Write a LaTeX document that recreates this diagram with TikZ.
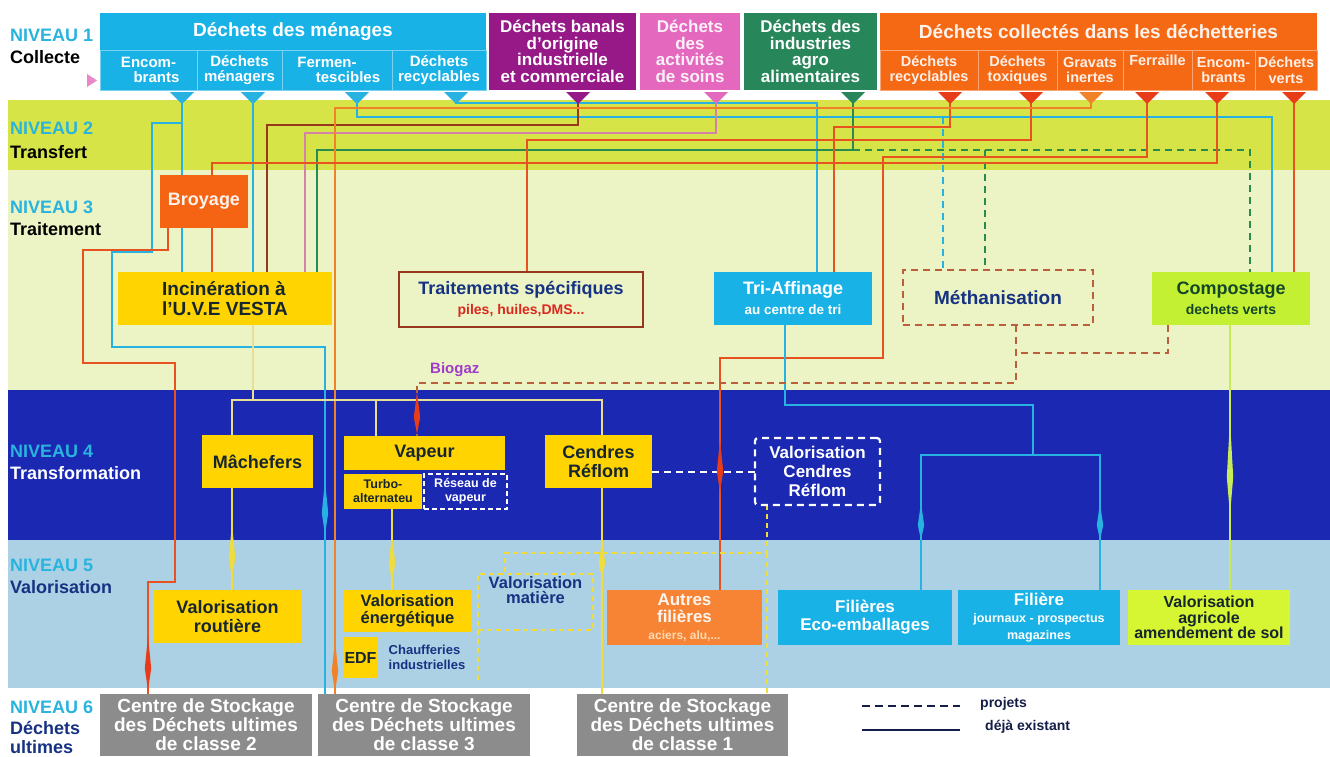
\documentclass[tikz,border=0pt]{standalone}
\usepackage{fontspec}
\setmainfont{Liberation Sans}
\usetikzlibrary{calc}
\pgfdeclarelayer{bg}\pgfdeclarelayer{ln}
\pgfsetlayers{bg,ln,main}
\definecolor{cyB}{RGB}{25,178,230}
\definecolor{cyD}{RGB}{120,210,240}
\definecolor{purB}{RGB}{150,25,135}
\definecolor{pinkB}{RGB}{228,105,190}
\definecolor{grB}{RGB}{40,135,90}
\definecolor{orB}{RGB}{245,105,20}
\definecolor{orD}{RGB}{250,165,115}
\definecolor{bandA}{RGB}{214,228,72}
\definecolor{bandB}{RGB}{236,244,198}
\definecolor{bandC}{RGB}{26,40,178}
\definecolor{bandD}{RGB}{172,208,228}
\definecolor{yelB}{RGB}{255,212,0}
\definecolor{limeB}{RGB}{196,240,52}
\definecolor{limeC}{RGB}{214,245,50}
\definecolor{grayB}{RGB}{140,140,140}
\definecolor{orC}{RGB}{246,132,52}
\definecolor{nivC}{RGB}{40,180,222}
\definecolor{txD}{RGB}{22,38,48}
\definecolor{txB}{RGB}{22,50,130}
\definecolor{txG}{RGB}{20,70,40}
\definecolor{lOr}{RGB}{232,82,32}
\definecolor{lOr2}{RGB}{240,130,40}
\definecolor{lBr}{RGB}{150,55,30}
\definecolor{lPk}{RGB}{212,130,170}
\definecolor{lGr}{RGB}{40,140,80}
\definecolor{lCy}{RGB}{40,178,225}
\definecolor{lDb}{RGB}{185,95,60}
\definecolor{lYe}{RGB}{232,222,150}
\definecolor{lYe2}{RGB}{240,220,60}
\definecolor{lLi}{RGB}{200,235,90}
\definecolor{bioC}{RGB}{160,60,200}
\definecolor{trR}{RGB}{232,60,25}
\definecolor{legC}{RGB}{20,30,70}
\definecolor{redT}{RGB}{220,40,30}
\newcommand\fsz[2]{\fontsize{#1}{#2}\selectfont\bfseries}
\newcommand\BX[6][]{\node[box,#1,minimum width={#4-#2},minimum height={#5-#3}] (#6) at (#2,#3)}
\newcommand\spd[4]{\fill[#4] (#1,#2) -- ({#1+3.2},{#2+0.6*(#3-#2)}) -- (#1,#3) -- ({#1-3.2},{#2+0.6*(#3-#2)}) -- cycle;}
\begin{document}
\begin{tikzpicture}[x=1pt,y=-1pt,
 box/.style={rectangle,inner sep=0pt,outer sep=0pt,anchor=north west,align=center},
 L/.style={line width=2.2pt},
 D/.style={line width=2.2pt,dash pattern=on 7pt off 5pt},
 lvl/.style={anchor=west,inner sep=0pt,font=\fsz{18}{20}}]
\useasboundingbox (0,0) rectangle (1330,756);
\begin{pgfonlayer}{bg}
\fill[white] (0,0) rectangle (1330,756);
\fill[bandA] (8,100) rectangle (1330,170);
\fill[bandB] (8,170) rectangle (1330,390);
\fill[bandC] (8,390) rectangle (1330,540);
\fill[bandD] (8,540) rectangle (1330,688);
\end{pgfonlayer}

% level labels
\node[lvl,text=nivC] (n1) at (10,35) {NIVEAU 1};
\node[lvl,text=black] (c1) at (10,57) {Collecte};
\node[lvl,text=nivC] (n2) at (10,128) {NIVEAU 2};
\node[lvl,text=black] (c2) at (10,152) {Transfert};
\node[lvl,text=nivC] (n3) at (10,207) {NIVEAU 3};
\node[lvl,text=black] (c3) at (10,229) {Traitement};
\node[lvl,text=nivC] (n4) at (10,451) {NIVEAU 4};
\node[lvl,text=white] (c4) at (10,473) {Transformation};
\node[lvl,text=nivC] (n5) at (10,565) {NIVEAU 5};
\node[lvl,text=txB] (c5) at (10,587) {Valorisation};
\node[lvl,text=nivC] (n6) at (10,707) {NIVEAU 6};
\node[lvl,text=txB] (c6) at (10,728) {Déchets};
\node[lvl,text=txB] (c6b) at (10,747) {ultimes};
\fill[pinkB!80] (87,74) -- (97,80.5) -- (87,87) -- cycle;

% top boxes
\BX[fill=cyB,font=\fsz{19}{20},text=white]{100}{13}{486}{50}{menH} {Déchets des ménages};
\BX[fill=cyB,draw=cyD,line width=1pt,font=\fsz{15}{15.5},text=white]{100}{50}{197}{90}{sEnc} {Encom-\\\hspace*{16pt}brants};
\BX[fill=cyB,draw=cyD,line width=1pt,font=\fsz{15}{15.5},text=white]{197}{50}{282}{90}{sMen} {Déchets\\ménagers};
\BX[fill=cyB,draw=cyD,line width=1pt,font=\fsz{15}{15.5},text=white]{282}{50}{392}{90}{sFer} {Fermen-\hspace*{20pt}\\\hspace*{22pt}tescibles};
\BX[fill=cyB,draw=cyD,line width=1pt,font=\fsz{15}{15.5},text=white]{392}{50}{486}{90}{sRec} {Déchets\\recyclables};
\BX[fill=purB,font=\fsz{17}{16.5},text=white]{489}{13}{636}{90}{ban} {Déchets banals\\d'origine\\industrielle\\et commerciale};
\BX[fill=pinkB,font=\fsz{17}{16.5},text=white!90!pinkB]{640}{13}{740}{90}{soi} {Déchets\\des\\activités\\de soins};
\BX[fill=grB,font=\fsz{17}{16.5},text=white]{744}{13}{877}{90}{agr} {Déchets des\\industries\\agro\\alimentaires};
\BX[fill=orB,font=\fsz{19}{20},text=white!92!orB]{880}{13}{1317}{50}{detH} {Déchets collectés dans les déchetteries};
\BX[fill=orB,draw=orD,line width=1pt,font=\fsz{14.5}{15.5},text=white!90!orB]{880}{50}{978}{90}{dRec} {Déchets\\recyclables};
\BX[fill=orB,draw=orD,line width=1pt,font=\fsz{14.5}{15.5},text=white!90!orB]{978}{50}{1057}{90}{dTox} {Déchets\\toxiques};
\BX[fill=orB,draw=orD,line width=1pt,font=\fsz{14.5}{15.5},text=white!90!orB]{1057}{50}{1123}{90}{dGra} {Gravats\\inertes};
\BX[fill=orB,draw=orD,line width=1pt,font=\fsz{14.5}{15.5},text=white!90!orB]{1123}{50}{1192}{90}{dFer} {Ferraille\\\strut};
\BX[fill=orB,draw=orD,line width=1pt,font=\fsz{14.5}{15.5},text=white!90!orB]{1192}{50}{1255}{90}{dEnc} {Encom-\\brants};
\BX[fill=orB,draw=orD,line width=1pt,font=\fsz{14.5}{15.5},text=white!90!orB]{1255}{50}{1317}{90}{dVer} {Déchets\\verts};

% markers
\foreach \n/\x/\c in {mEnc/182/lCy,mMen/253/lCy,mFer/357/lCy,mRec/456/lCy,mBan/578/purB,mSoi/716/pinkB,mAgr/853/grB,mDRec/950/trR,mTox/1031/trR,mGra/1091/lOr2,mFer2/1147/trR,mEnc2/1217/trR,mVer/1294/trR}{
  \fill[\c] (\x-12,92) -- (\x+12,92) -- (\x,104) -- cycle;
  \coordinate (\n) at (\x,100);
}

% level 3
\BX[fill=orB!95!red,font=\fsz{18}{20},text=white!92!orB]{160}{175}{248}{228}{broy} {Broyage};
\BX[fill=yelB,font=\fsz{19}{20},text=txD,align=left]{118}{272}{332}{325}{inc} {Incinération à\\l'U.V.E VESTA};
\BX[fill=bandB,draw=lBr,line width=2.5pt,font=\fsz{18}{20},text=txB]{399}{272}{643}{327}{trait} {Traitements spécifiques\\\fsz{14}{17}\textcolor{redT}{piles, huiles,DMS...}};
\BX[fill=cyB,font=\fsz{18}{20},text=white]{714}{272}{872}{325}{tri} {Tri-Affinage\\\fsz{13.5}{16}au centre de tri};
\BX[draw=lDb,D,font=\fsz{19}{20},text=txB]{903}{270}{1093}{325}{meth} {Méthanisation};
\BX[fill=limeB,font=\fsz{18}{20},text=txG]{1152}{272}{1310}{325}{comp} {Compostage\\\fsz{14}{16}dechets verts};

% level 4
\BX[fill=yelB,font=\fsz{18}{20},text=txD]{202}{435}{313}{488}{mach} {Mâchefers};
\BX[fill=yelB,font=\fsz{18}{20},text=txD]{344}{436}{505}{470}{vap} {Vapeur};
\BX[fill=yelB,font=\fsz{12.5}{14},text=txD]{344}{474}{422}{509}{turbo} {Turbo-\\alternateu};
\BX[draw=white,line width=1.8pt,dash pattern=on 5pt off 3pt,font=\fsz{12.5}{14},text=white]{424}{474}{507}{509}{reseau} {Réseau de\\vapeur};
\BX[fill=yelB,font=\fsz{18}{19},text=txD]{545}{435}{652}{488}{cend} {Cendres\\Réflom};
\BX[draw=white,line width=2.2pt,dash pattern=on 7pt off 5pt,font=\fsz{17}{19},text=white,rounded corners=3pt]{755}{438}{880}{505}{valc} {Valorisation\\Cendres\\Réflom};

% level 5
\BX[fill=yelB,font=\fsz{18}{19},text=txD]{153}{590}{302}{643}{valrout} {Valorisation\\routière};
\BX[fill=yelB,font=\fsz{16.5}{17},text=txD]{343}{590}{472}{632}{valen} {Valorisation\\énergétique};
\BX[fill=yelB,font=\fsz{16}{17},text=txD]{343}{637}{378}{678}{edf} {EDF};
\BX[font=\fsz{13}{14.5},text=txB,align=left]{382}{637}{472}{678}{chauf} {Chaufferies\\industrielles};
\BX[draw=lYe2,line width=2pt,dash pattern=on 5pt off 4pt,font=\fsz{16.5}{15},text=txB,anchor=north west]{478}{574}{593}{630}{valmat} {Valorisation\\matière\\[8pt]};
\BX[fill=orC,font=\fsz{17}{17},text=white!92!orC]{607}{590}{762}{645}{autres} {Autres\\filières\\\fsz{12}{13}\textcolor{orange!30}{aciers, alu,...}};
\BX[fill=cyB,font=\fsz{17}{18},text=white]{778}{590}{952}{645}{eco} {Filières\\Eco-emballages};
\BX[fill=cyB,font=\fsz{17}{17},text=white]{958}{590}{1120}{645}{journ} {Filière\\\fsz{12.5}{13}journaux - prospectus\\\fsz{12.5}{13}magazines};
\BX[fill=limeC,font=\fsz{16}{15.5},text=txD]{1128}{590}{1290}{645}{agri} {Valorisation\\agricole\\amendement de sol};

% level 6
\BX[fill=grayB,font=\fsz{19}{19},text=white]{100}{694}{312}{756}{cs2} {Centre de Stockage\\des Déchets ultimes\\de classe 2};
\BX[fill=grayB,font=\fsz{19}{19},text=white]{318}{694}{530}{756}{cs3} {Centre de Stockage\\des Déchets ultimes\\de classe 3};
\BX[fill=grayB,font=\fsz{19}{19},text=white]{577}{694}{788}{756}{cs1} {Centre de Stockage\\des Déchets ultimes\\de classe 1};

% legend
\coordinate (lp1) at (862,706); \coordinate (lp2) at (960,706);
\coordinate (le1) at (862,730); \coordinate (le2) at (960,730);
\draw[legC,line width=2.4pt,dash pattern=on 8pt off 5pt] (lp1) -- (lp2);
\draw[legC,line width=2.6pt] (le1) -- (le2);
\node[anchor=west,inner sep=0pt,font=\fsz{14}{15},text=legC] (legP) at (980,704) {projets};
\node[anchor=west,inner sep=0pt,font=\fsz{14}{15},text=legC] (legE) at (985,727) {déjà existant};
\node[anchor=west,inner sep=0pt,font=\fsz{15}{17},text=bioC] (biog) at (430,370) {Biogaz};

\begin{pgfonlayer}{ln}
% cyan lines
\draw[L,lCy] (mEnc) -- (mEnc |- broy.north);
\draw[L,lCy] (mEnc |- broy.south) -- (mEnc |- inc.north);
\draw[L,lCy] (182,123) -- (152,123) -- (152,252) -- (112,252) -- (112,347) -- (325,347) -- (325,0 |- cs3.north);
\draw[L,lCy] (mMen) -- (mMen |- inc.north);
\draw[L,lCy] (mFer) -- (357,117) -- (1272,117) -- (1272,0 |- comp.north);
\draw[D,lCy] (943,117) -- (943,0 |- meth.north);
\draw[L,lCy] (mRec) -- (456,103) -- (817,103) -- (817,0 |- tri.north);
% banals, soins, agro
\draw[L,lBr] (mBan) -- (578,125) -- (267,125) -- (267,0 |- inc.north);
\draw[L,lPk] (mSoi) -- (716,133) -- (305,133) -- (305,0 |- inc.north);
\draw[L,lGr] (mAgr) -- (853,150) -- (317,150) -- (317,0 |- inc.north);
\draw[D,lGr] (853,150) -- (1250,150) -- (1250,0 |- comp.north);
\draw[D,lGr] (985,150) -- (985,0 |- meth.north);
% dechetteries
\draw[L,lOr] (mDRec) -- (950,127) -- (834,127) -- (834,0 |- tri.north);
\draw[L,lOr] (mTox) -- (1031,140) -- (527,140) -- (527,0 |- trait.north);
\draw[L,lOr2] (mGra) -- (1091,108) -- (335,108) -- (335,0 |- cs3.north);
\draw[L,lOr] (mFer2) -- (1147,157) -- (883,157) -- (883,358) -- (720,358) -- (720,0 |- autres.north);
\draw[L,lOr] (mEnc2) -- (1217,163) -- (212,163) -- (212,0 |- broy.north);
\draw[L,lOr] (212,0 |- broy.south) -- (212,0 |- inc.north);
\draw[L,lOr] (mVer) -- (1294,0 |- comp.north);
\draw[L,lOr] (168,0 |- broy.south) -- (168,250) -- (83,250) -- (83,363) -- (175,363) -- (175,582) -- (148,582) -- (148,0 |- cs2.north);
% incineration outputs
\draw[L,lYe] (253,0 |- inc.south) -- (253,400);
\draw[L,lYe] (232,0 |- mach.north) -- (232,400) -- (602,400) -- (602,0 |- cend.north);
\draw[L,lYe] (376,400) -- (376,0 |- vap.north);
\draw[L,lYe2] (232,0 |- mach.south) -- (232,0 |- valrout.north);
\draw[L,lYe2] (392,0 |- turbo.south) -- (392,0 |- valen.north);
\draw[L,lYe2] (602,0 |- cend.south) -- (602,0 |- cs1.north);
\draw[line width=2pt,white,dash pattern=on 7pt off 5pt] (cend.east |- valc.west) -- (valc.west);
\draw[line width=2pt,lYe2,dash pattern=on 5pt off 4pt] (767,0 |- valc.south) -- (767,553) -- (505,553) -- (505,0 |- valmat.north);
\draw[line width=2pt,lYe2,dash pattern=on 5pt off 4pt] (767,553) -- (767,0 |- cs1.north);
\draw[line width=2pt,lYe2,dash pattern=on 5pt off 4pt] (valmat.south west) -- ++(0,50);
% tri outputs
\draw[L,lCy] (785,0 |- tri.south) -- (785,405) -- (1033,405) -- (1033,455);
\draw[L,lCy] (921,0 |- eco.north) -- (921,455) -- (1100,455) -- (1100,0 |- journ.north);
% compost
\draw[L,lLi] (1230,0 |- comp.south) -- (1230,0 |- agri.north);
\draw[D,lDb] (1168,0 |- comp.south) -- (1168,353) -- (1016,353);
\draw[D,lDb] (1016,0 |- meth.south) -- (1016,383) -- (417,383) -- (417,0 |- vap.north);
% spindle arrows
\spd{720}{440}{492}{trR}
\spd{417}{392}{434}{trR}
\spd{232}{524}{580}{lYe2}
\spd{392}{535}{582}{lYe2}
\spd{921}{503}{540}{lCy}
\spd{1100}{503}{540}{lCy}
\spd{1230}{420}{515}{lLi}
\spd{148}{636}{690}{trR}
\spd{335}{640}{692}{lOr2}
\spd{325}{480}{535}{lCy}
\spd{602}{540}{578}{lYe2}
\end{pgfonlayer}
\end{tikzpicture}
\end{document}
